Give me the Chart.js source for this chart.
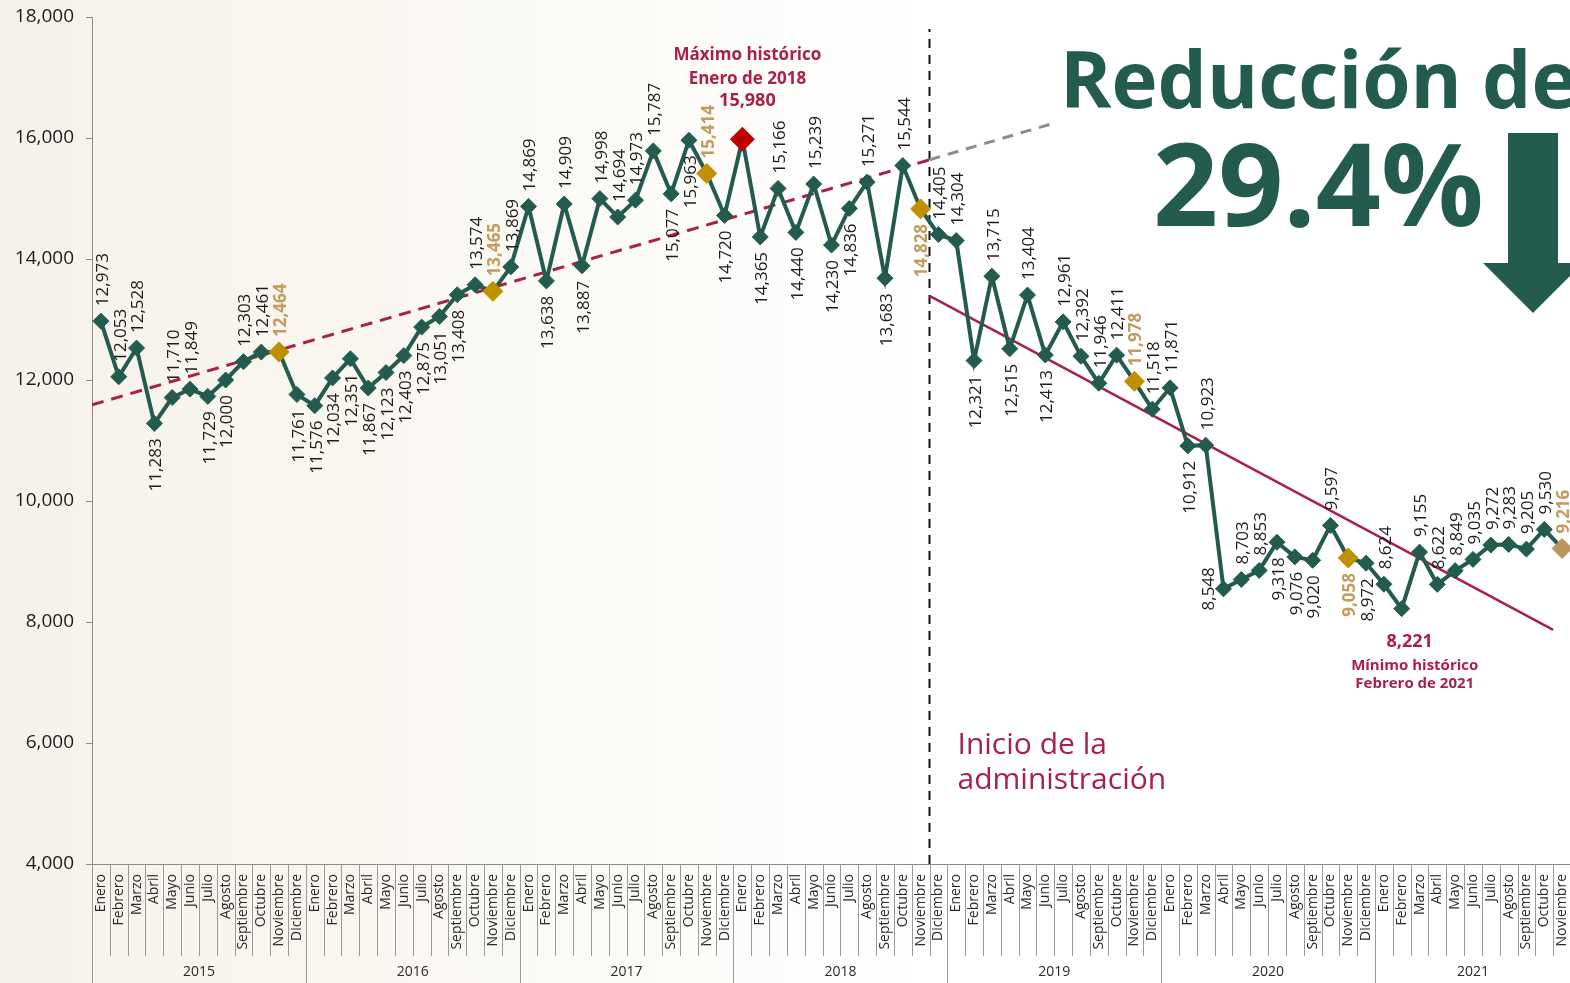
<!DOCTYPE html>
<html lang="es">
<head>
<meta charset="utf-8">
<title>Reducción de 29.4%</title>
<script src="https://cdn.jsdelivr.net/npm/chart.js@4.4.1/dist/chart.umd.min.js"></script>
<style>
  html, body { margin: 0; padding: 0; overflow: hidden; }
  body {
    width: 1570px; height: 983px;
    background: linear-gradient(90deg, #f6f2eb 0%, #f9f6f0 22%, #fcfbf8 42%, #ffffff 58%);
  }
  #wrap { position: absolute; left: 0; top: 0; width: 1600px; height: 983px; }
</style>
</head>
<body>
<div id="wrap"><canvas id="mainChart" width="1600" height="983"></canvas></div>
<script>
// datos mensuales, enero 2015 - noviembre 2021

const monthNames = ['Enero', 'Febrero', 'Marzo', 'Abril', 'Mayo', 'Junio', 'Julio',
    'Agosto', 'Septiembre', 'Octubre', 'Noviembre', 'Diciembre'];
const years = ['2015', '2016', '2017', '2018', '2019', '2020', '2021'];

const values = [
    12973, 12053, 12528, 11283, 11710, 11849, 11729, 12000, 12303, 12461, 12464, 11761, // 2015
    11576, 12034, 12351, 11867, 12123, 12403, 12875, 13051, 13408, 13574, 13465, 13869, // 2016
    14869, 13638, 14909, 13887, 14998, 14694, 14973, 15787, 15077, 15963, 15414, 14720, // 2017
    15980, 14365, 15166, 14440, 15239, 14230, 14836, 15271, 13683, 15544, 14828, 14405, // 2018
    14304, 12321, 13715, 12515, 13404, 12413, 12961, 12392, 11946, 12411, 11978, 11518, // 2019
    11871, 10912, 10923, 8548, 8703, 8853, 9318, 9076, 9020, 9597, 9058, 8972,         // 2020
    8624, 8221, 9155, 8622, 8849, 9035, 9272, 9283, 9205, 9530, 9216                   // 2021
];

// t = arriba, b = abajo, l = izquierda, '' = sin etiqueta
const labelPos = [
    't','t','t','b','t','t','b','b','t','t','t','b',
    'b','b','b','b','b','b','b','b','b','t','t','t',
    't','b','t','b','t','t','t','t','b','b','t','b',
    '', 'b','t','b','t','b','b','t','b','t','b','t',
    't','b','t','b','t','b','t','t','t','t','t','t',
    't','b','t','l','t','t','b','b','b','t','b','b',
    't','', 't','t','t','t','t','t','t','t','t'
];

// tendencias (indice de mes, valor)
const trendBefore = [{ x: -0.5, y: 11590 }, { x: 46.5, y: 15640 }];
const trendProjection = [{ x: 46.5, y: 15640 }, { x: 53.3, y: 16230 }];
const trendAfter = [{ x: 46.5, y: 13390 }, { x: 81.5, y: 7870 }];
const adminStart = [{ x: 46.5, y: 4000 }, { x: 46.5, y: 17800 }];

const yTicks = [4000, 6000, 8000, 10000, 12000, 14000, 16000, 18000];
const reductionText = '29.4%';

const GREEN = '#235B4E';
const GOLD = '#BF9000';
const GOLD_TEXT = '#C49B5E';
const GUINDA = '#A8214A';
const RED = '#C00000';
const FONT = '"Open Sans", "Noto Sans", sans-serif';

const categories = [];
years.forEach(y => monthNames.forEach(m => categories.push(m)));
categories.length = values.length;

const maxIdx = values.indexOf(Math.max(...values));
const minIdx = values.indexOf(Math.min(...values));
const isNov = i => i % 12 === 10;
const fmt = v => v.toLocaleString('en-US');

function pointColor(i) {
    if (i === maxIdx) return RED;
    if (isNov(i)) return i === values.length - 1 ? '#BC955C' : GOLD;
    return GREEN;
}
function pointSize(i) {
    if (i === maxIdx) return 12;
    if (isNov(i)) return 10;
    return 8;
}

const pointLabels = {
    id: 'pointLabels',
    afterDatasetsDraw(chart) {
        const ctx = chart.ctx;
        const meta = chart.getDatasetMeta(0);
        meta.data.forEach((pt, i) => {
            const pos = labelPos[i];
            if (!pos) return;
            const gold = isNov(i);
            ctx.save();
            ctx.font = (gold ? 'bold ' : '') + '17px ' + FONT;
            ctx.fillStyle = gold ? GOLD_TEXT : '#1c1c1c';
            ctx.textBaseline = 'middle';
            let x = pt.x + 2, y = pt.y;
            if (pos === 't') { y -= 15; ctx.textAlign = 'left'; }
            else if (pos === 'b') { y += 15; ctx.textAlign = 'right'; }
            else { x = pt.x - 14; ctx.textAlign = 'center'; }
            ctx.translate(x, y);
            ctx.rotate(-Math.PI / 2);
            ctx.fillText(fmt(values[i]), 0, 0);
            ctx.restore();
        });
    }
};

const axisDecor = {
    id: 'axisDecor',
    afterDraw(chart) {
        const ctx = chart.ctx;
        const xs = chart.scales.x;
        const bottom = chart.chartArea.bottom;
        const step = xs.getPixelForValue(1) - xs.getPixelForValue(0);
        ctx.save();
        ctx.strokeStyle = '#9a9a9a';
        ctx.lineWidth = 1;
        for (let i = 0; i <= categories.length; i++) {
            const bx = Math.round(xs.getPixelForValue(i) - step / 2) + 0.5;
            ctx.beginPath();
            ctx.moveTo(bx, bottom);
            ctx.lineTo(bx, i % 12 === 0 ? chart.height : bottom + 92);
            ctx.stroke();
        }
        ctx.fillStyle = '#2a2a2a';
        ctx.font = '14px ' + FONT;
        ctx.textAlign = 'center';
        ctx.textBaseline = 'middle';
        years.forEach((yr, k) => {
            const first = k * 12;
            const last = Math.min(first + 11, categories.length - 1);
            const cx = (xs.getPixelForValue(first) + xs.getPixelForValue(last)) / 2;
            ctx.fillText(yr, cx, bottom + 108);
        });
        ctx.restore();
    }
};

const notes = {
    id: 'notes',
    afterDraw(chart) {
        const ctx = chart.ctx;
        const meta = chart.getDatasetMeta(0);
        const x2 = chart.scales.x2;
        const ys = chart.scales.y;
        ctx.save();
        ctx.textAlign = 'center';
        ctx.textBaseline = 'alphabetic';
        ctx.fillStyle = GUINDA;

        // maximo
        const pMax = meta.data[maxIdx];
        ctx.font = 'bold 17px ' + FONT;
        ctx.fillText('Máximo histórico', pMax.x + 5, pMax.y - 79);
        ctx.fillText('Enero de 2018', pMax.x + 5, pMax.y - 55);
        ctx.font = 'bold 18px ' + FONT;
        ctx.fillText(fmt(values[maxIdx]), pMax.x + 5, pMax.y - 33);

        // minimo
        const pMin = meta.data[minIdx];
        ctx.font = 'bold 18px ' + FONT;
        ctx.fillText(fmt(values[minIdx]), pMin.x + 8, pMin.y + 38);
        ctx.font = 'bold 15px ' + FONT;
        ctx.fillText('Mínimo histórico', pMin.x + 13, pMin.y + 61);
        ctx.fillText('Febrero de 2021', pMin.x + 13, pMin.y + 79);

        // inicio de la administracion
        const ax = x2.getPixelForValue(46.5) + 28;
        const ay = ys.getPixelForValue(6000);
        ctx.textAlign = 'left';
        ctx.font = '30px ' + FONT;
        ctx.fillText('Inicio de la', ax, ay + 11);
        ctx.fillText('administración', ax, ay + 46);

        // titulo
        ctx.fillStyle = GREEN;
        ctx.font = 'bold 78px ' + FONT;
        ctx.fillText('Reducción de', 1060, 108);
        ctx.font = 'bold 114px ' + FONT;
        ctx.fillText(reductionText, 1153, 226);

        // flecha
        ctx.beginPath();
        ctx.moveTo(1508, 133);
        ctx.lineTo(1558, 133);
        ctx.lineTo(1558, 263);
        ctx.lineTo(1583, 263);
        ctx.lineTo(1533, 313);
        ctx.lineTo(1483, 263);
        ctx.lineTo(1508, 263);
        ctx.closePath();
        ctx.fill();
        ctx.restore();
    }
};

const ctx = document.getElementById('mainChart').getContext('2d');

new Chart(ctx, {
    type: 'line',
    data: {
        labels: categories,
        datasets: [
            {
                label: 'Total',
                data: values,
                borderColor: GREEN,
                borderWidth: 4,
                tension: 0,
                pointStyle: 'rectRot',
                pointRadius: c => pointSize(c.dataIndex),
                pointBackgroundColor: c => pointColor(c.dataIndex),
                pointBorderColor: c => pointColor(c.dataIndex),
                pointBorderWidth: 1,
                order: 0
            },
            {
                label: 'Tendencia anterior',
                data: trendBefore,
                xAxisID: 'x2',
                borderColor: GUINDA,
                borderWidth: 3,
                borderDash: [12, 8],
                pointRadius: 0,
                order: 2
            },
            {
                label: 'Proyección',
                data: trendProjection,
                xAxisID: 'x2',
                borderColor: '#8c8c8c',
                borderWidth: 3,
                borderDash: [11, 8],
                pointRadius: 0,
                order: 2
            },
            {
                label: 'Tendencia actual',
                data: trendAfter,
                xAxisID: 'x2',
                borderColor: GUINDA,
                borderWidth: 2.5,
                pointRadius: 0,
                order: 2
            },
            {
                label: 'Inicio de la administración',
                data: adminStart,
                xAxisID: 'x2',
                borderColor: '#111',
                borderWidth: 2,
                borderDash: [9, 7],
                pointRadius: 0,
                order: 2
            }
        ]
    },
    options: {
        responsive: false,
        animation: false,
        layout: { padding: { top: 17, right: 29, left: 0, bottom: 0 } },
        plugins: {
            legend: { display: false },
            tooltip: { enabled: false }
        },
        scales: {
            x: {
                type: 'category',
                offset: true,
                grid: { display: false, drawTicks: false },
                border: { display: true, color: '#8a8a8a', width: 1 },
                ticks: {
                    autoSkip: false,
                    minRotation: 90,
                    maxRotation: 90,
                    padding: 10,
                    color: '#2a2a2a',
                    font: { family: FONT, size: 14 }
                },
                afterFit: s => { s.height = 119; s.paddingLeft = 0; s.paddingRight = 0; }
            },
            x2: {
                type: 'linear',
                display: false,
                min: -0.5,
                max: values.length - 0.5
            },
            y: {
                min: yTicks[0],
                max: yTicks[yTicks.length - 1],
                afterBuildTicks: s => { s.ticks = yTicks.map(v => ({ value: v })); },
                grid: { drawOnChartArea: false, drawTicks: true, tickLength: 6, color: '#8a8a8a' },
                border: { display: true, color: '#8a8a8a', width: 1 },
                ticks: {
                    padding: 12,
                    color: '#1c1c1c',
                    font: { family: FONT, size: 19 },
                    callback: v => fmt(v)
                },
                afterFit: s => { s.width = 92; s.paddingTop = 0; s.paddingBottom = 0; }
            }
        }
    },
    plugins: [pointLabels, axisDecor, notes]
});
</script>
</body>
</html>
